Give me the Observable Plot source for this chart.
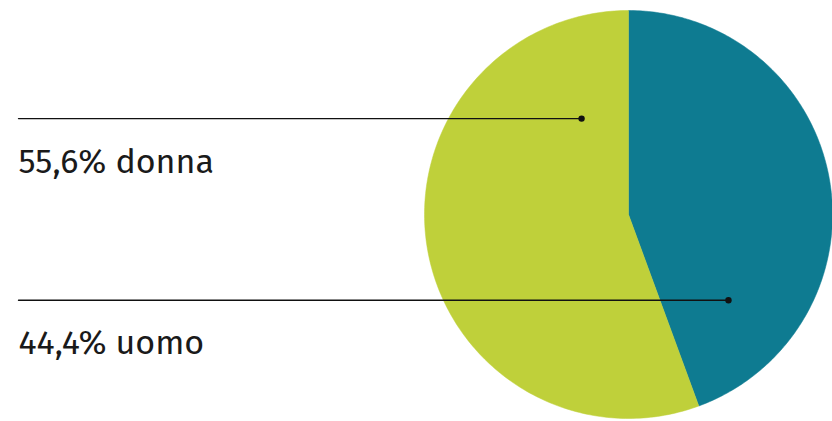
<!DOCTYPE html>
<html>
<head>
<meta charset="utf-8">
<script src="https://cdn.jsdelivr.net/npm/d3@7"></script>
<script src="https://cdn.jsdelivr.net/npm/@observablehq/plot@0.6"></script>
<style>
  html, body { margin: 0; padding: 0; background: #fff; }
  svg { display: block; }
</style>
</head>
<body>
<div id="chart"></div>
<script>
// Data
const categories = ["uomo", "donna"];
const values = [44.4, 55.6];
const labels = ["44,4% uomo", "55,6% donna"];
const colors = ["#0e7b91", "#bfd03a"];

// Layout (unit-circle coordinates)
const W = 832, H = 421;
const cx = 628, cy = 214, R = 204;
const xDomain = [-cx / R, (W - cx) / R];
const yDomain = [-(H - cy) / R, cy / R];
// label anchor dots (unit coords) and label line left end
const anchors = [[0.49, -0.42], [-0.23, 0.47]];
const lineLeftX = 18;

// pie geometry from data via d3.pie (clockwise from 12 o'clock)
const arcs = d3.pie().sort(null).value(d => d)(values);
const slicePts = [];
arcs.forEach((a, i) => {
  const n = 200;
  slicePts.push({k: categories[i], x: 0, y: 0});
  for (let j = 0; j <= n; j++) {
    const t = a.startAngle + (a.endAngle - a.startAngle) * j / n;
    slicePts.push({k: categories[i], x: Math.sin(t), y: Math.cos(t)});
  }
  slicePts.push({k: categories[i], x: 0, y: 0});
});

const xPx = d3.scaleLinear().domain(xDomain).range([0, W]);
const leftU = xPx.invert(lineLeftX);
const leaders = [];
const dots = [];
const texts = [];
categories.forEach((c, i) => {
  const [ax, ay] = anchors[i];
  leaders.push({k: c, x: leftU, y: ay}, {k: c, x: ax, y: ay});
  dots.push({k: c, x: ax, y: ay});
  texts.push({k: c, x: leftU, y: ay, label: labels[i]});
});

const chart = Plot.plot({
  width: W,
  height: H,
  margin: 0,
  style: {background: "#fff", overflow: "visible"},
  x: {domain: xDomain, range: [0, W], axis: null},
  y: {domain: yDomain, range: [H, 0], axis: null},
  color: {domain: categories, range: colors},
  marks: [
    Plot.line(slicePts, {x: "x", y: "y", z: "k", fill: "k", stroke: "k", strokeWidth: 0.5, curve: "linear"}),
    Plot.line(leaders, {x: "x", y: "y", z: "k", stroke: "#111", strokeWidth: 1.4}),
    Plot.dot(dots, {x: "x", y: "y", r: 3.2, fill: "#111", stroke: "none"}),
    Plot.text(texts, {x: "x", y: "y", text: "label", textAnchor: "start", dy: 43, dx: 0,
      fontSize: 34, fill: "#1a1a1a", fontFamily: "'Fira Sans', 'Open Sans', sans-serif"})
  ]
});
document.getElementById("chart").appendChild(chart);
</script>
</body>
</html>
